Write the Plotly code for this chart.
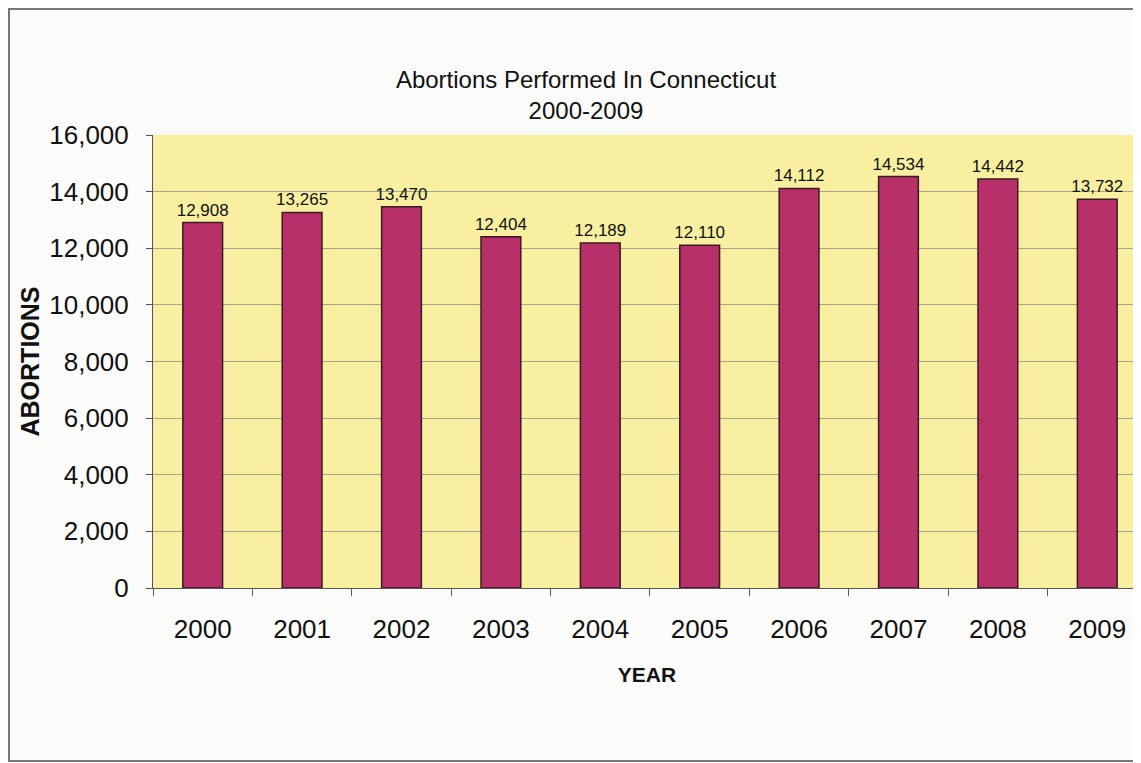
import plotly.graph_objects as go

years = ['2000', '2001', '2002', '2003', '2004', '2005', '2006', '2007', '2008', '2009']
abortions = [12908, 13265, 13470, 12404, 12189, 12110, 14112, 14534, 14442, 13732]
y_ticks = [0, 2000, 4000, 6000, 8000, 10000, 12000, 14000, 16000]

COLORS = {
    'bar': '#b8306a',
    'edge': '#3a1a20',
    'plot': '#f8f0a0',
    'paper': '#fbfbfa',
    'grid': '#a8a48a',
    'text': '#111111',
}

# the page body adds an 8px offset, so the figure is 8px smaller and margins shifted
W, H = 1133, 755
L, T, B = 145, 127, 175
PW, PH = W - L, H - T - B

fig = go.Figure(go.Bar(
    x=years, y=abortions,
    width=0.4,
    marker=dict(color=COLORS['bar'], line=dict(color=COLORS['edge'], width=1.5)),
    text=[f'{v:,}' for v in abortions],
    textposition='outside',
    constraintext='none',
    textfont=dict(size=17, color=COLORS['text']),
    cliponaxis=False,
))

fig.update_layout(
    width=W, height=H,
    paper_bgcolor=COLORS['paper'],
    plot_bgcolor=COLORS['plot'],
    font=dict(family='Liberation Sans, Arial, sans-serif', color=COLORS['text']),
    margin=dict(l=L, r=0, t=T, b=B, pad=0),
    showlegend=False,
    title=dict(text='Abortions Performed In Connecticut<br>2000-2009',
               x=578 / W, xanchor='center', y=1 - 80 / H, yanchor='middle',
               font=dict(size=24, color=COLORS['text'])),
    xaxis=dict(
        type='category',
        range=[-0.5, 9.44],
        tickson='boundaries', ticks='outside', ticklen=7, tickcolor='#555',
        showline=True, linecolor='#555', linewidth=1,
        tickfont=dict(size=26), showgrid=False, ticklabelstandoff=18,
        title=dict(text='<b>YEAR</b>', font=dict(size=21), standoff=24),
    ),
    yaxis=dict(
        range=[0, 16000], tickvals=y_ticks, tickformat=',',
        ticks='outside', ticklen=6, tickcolor='#555',
        showline=True, linecolor='#555', linewidth=1,
        gridcolor=COLORS['grid'], gridwidth=1,
        tickfont=dict(size=26), zeroline=False, ticklabelstandoff=12,
        title=dict(text='<b>ABORTIONS</b>', font=dict(size=25), standoff=2),
    ),
    shapes=[dict(type='rect', xref='paper', yref='paper',
                 x0=(1 - L) / PW, x1=1.05, y0=-(B - 2) / PH, y1=1 + (T - 1) / PH,
                 line=dict(color='#777', width=2), layer='below')],
)

fig.write_html('out.html')
